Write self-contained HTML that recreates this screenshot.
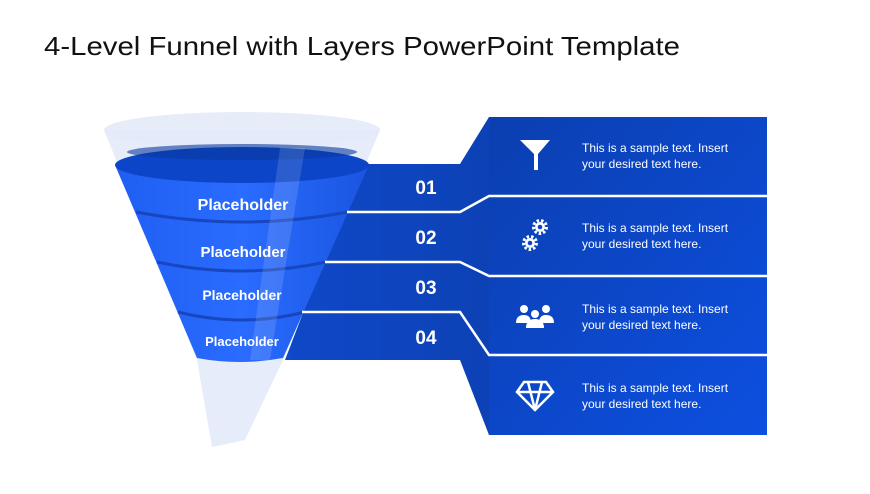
<!DOCTYPE html>
<html><head><meta charset="utf-8"><style>
body{margin:0;width:870px;height:489px;background:#fff;overflow:hidden;font-family:"Liberation Sans",sans-serif;}
</style></head><body>
<svg width="870" height="489" viewBox="0 0 870 489" xmlns="http://www.w3.org/2000/svg">
<defs>
<linearGradient id="pan" x1="0" y1="0" x2="1" y2="1"><stop offset="0" stop-color="#0b3fb0"/><stop offset="1" stop-color="#0d4fe0"/></linearGradient>
<linearGradient id="band" x1="0" y1="0" x2="1" y2="0"><stop offset="0" stop-color="#0f48c8"/><stop offset="0.6" stop-color="#0c3fae"/><stop offset="1" stop-color="#0a3a9e"/></linearGradient>
<linearGradient id="fun" x1="0" y1="0" x2="1" y2="0"><stop offset="0" stop-color="#1f5ef2"/><stop offset="0.5" stop-color="#2a6cff"/><stop offset="1" stop-color="#1a55e0"/></linearGradient>
</defs>
<text x="44" y="55" font-size="26" textLength="636" lengthAdjust="spacingAndGlyphs" fill="#111" font-family="Liberation Sans, sans-serif">4-Level Funnel with Layers PowerPoint Template</text>
<ellipse cx="242" cy="130" rx="138" ry="18" fill="#e6ecf8"/>
<path d="M104 130 L197 360 L212 447 L245 440 L283 360 L380 130 Z" fill="#e3eaf8" opacity="0.9"/>
<path d="M360 164 L460 164 L489 117 L767 117 L767 435 L489 435 L460 360 L285 360 Z" fill="url(#band)"/>
<rect x="489" y="117" width="278" height="318" fill="url(#pan)"/>
<path d="M115 165 L197 358 Q240 366 283 358 L369 165 Z" fill="url(#fun)"/>
<ellipse cx="242" cy="165" rx="127" ry="18" fill="#0c45c8"/>
<ellipse cx="242" cy="152" rx="115" ry="8" fill="#0a38a0" opacity="0.6"/>
<path d="M136 212 Q242 232 348 212" fill="none" stroke="#1747c0" stroke-width="3"/>
<path d="M157 262 Q242 280 326 262" fill="none" stroke="#1747c0" stroke-width="3"/>
<path d="M178 312 Q242 328 305 312" fill="none" stroke="#1747c0" stroke-width="3"/>
<path d="M280 148 L305 148 L270 360 L250 360 Z" fill="#ffffff" opacity="0.13"/>
<g fill="none" stroke="#fff" stroke-width="2.5">
<path d="M347 212 L460 212 L489 196 L767 196"/>
<path d="M325 262 L460 262 L489 276 L767 276"/>
<path d="M302 312 L460 312 L489 355 L767 355"/>
</g>
<g font-weight="bold" fill="#fff" text-anchor="middle" font-family="Liberation Sans, sans-serif">
<text x="243" y="210" font-size="16">Placeholder</text>
<text x="243" y="257" font-size="15">Placeholder</text>
<text x="242" y="300" font-size="14">Placeholder</text>
<text x="242" y="346" font-size="13">Placeholder</text>
<text x="426" y="194" font-size="19">01</text>
<text x="426" y="244" font-size="19">02</text>
<text x="426" y="294" font-size="19">03</text>
<text x="426" y="344" font-size="19">04</text>
</g>
<g fill="#fff" font-size="12" font-family="Liberation Sans, sans-serif">
<text x="582" y="152">This is a sample text. Insert</text><text x="582" y="168">your desired text here.</text>
<text x="582" y="232">This is a sample text. Insert</text><text x="582" y="248">your desired text here.</text>
<text x="582" y="313">This is a sample text. Insert</text><text x="582" y="329">your desired text here.</text>
<text x="582" y="392">This is a sample text. Insert</text><text x="582" y="408">your desired text here.</text>
</g>
<path d="M520 140 L550 140 L538 154 L538 170 L534 170 L534 154 Z" fill="#fff"/>
<g fill="none" stroke="#fff" stroke-width="3" stroke-dasharray="2.5 2">
<circle cx="540" cy="227" r="6.5"/><circle cx="530" cy="243" r="6.5"/>
</g>
<g fill="#fff">
<circle cx="540" cy="227" r="5"/><circle cx="530" cy="243" r="5"/>
</g>
<circle cx="540" cy="227" r="2.3" fill="#0d45c8"/><circle cx="530" cy="243" r="2.3" fill="#0d45c8"/>
<g fill="#fff">
<circle cx="524" cy="309" r="4"/><circle cx="546" cy="309" r="4"/><circle cx="535" cy="314" r="4"/>
<path d="M516 323 Q516 315 524 315 Q531 315 531 323 Z"/><path d="M539 323 Q539 315 546 315 Q554 315 554 323 Z"/>
<path d="M526 328 Q526 319 535 319 Q544 319 544 328 Z"/>
</g>
<g fill="none" stroke="#fff" stroke-width="2.5">
<path d="M524 382 L546 382 L553 392 L535 410 L517 392 Z M517 392 L553 392 M528 382 L535 410 L542 382"/>
</g>
</svg>
</body></html>
